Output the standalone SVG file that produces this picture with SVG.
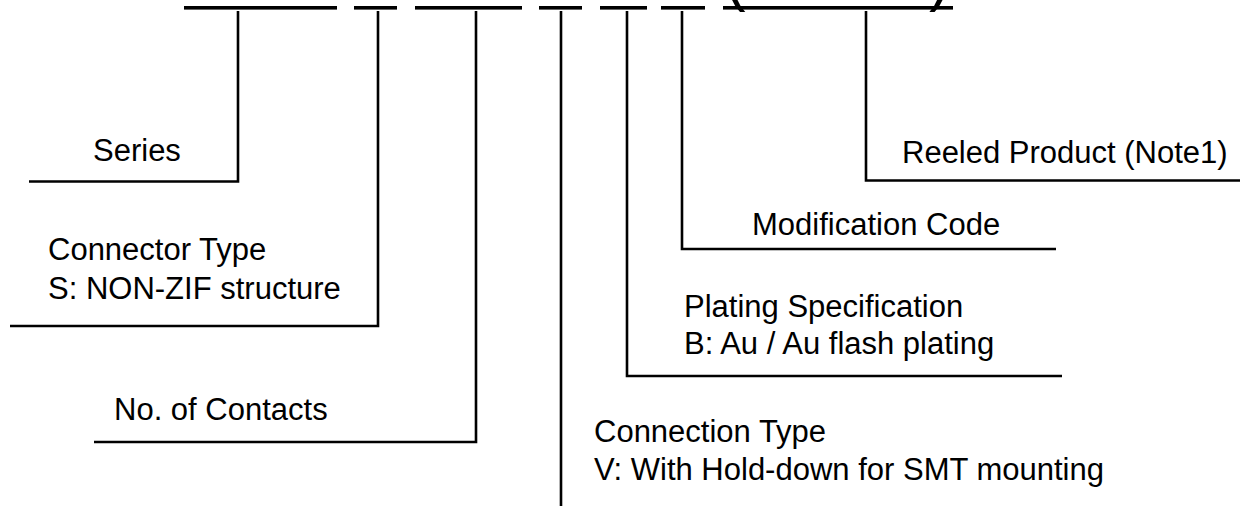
<svg xmlns="http://www.w3.org/2000/svg" width="1240" height="506" viewBox="0 0 1240 506">
<style>
.t{font-family:"Liberation Sans",Arial,sans-serif;font-size:31px;fill:#000}
.pn{font-family:"Liberation Sans",Arial,sans-serif;font-size:62px;fill:#000}
.ln{fill:none;stroke:#000;stroke-width:2.6}
.bar{fill:#000}
</style>
<rect width="1240" height="506" fill="#fff"/>
<g id="part-number">
<rect class="bar" x="184" y="6" width="153" height="3.6"/>
<rect class="bar" x="354" y="6" width="43" height="3.6"/>
<rect class="bar" x="415" y="6" width="107" height="3.6"/>
<rect class="bar" x="539" y="6" width="43" height="3.6"/>
<rect class="bar" x="600" y="6" width="47" height="3.6"/>
<rect class="bar" x="661" y="6" width="44" height="3.6"/>
<rect class="bar" x="723" y="6" width="230" height="3.6"/>
<text class="pn" x="725" y="-1">(</text>
<text class="pn" x="929" y="-1">)</text>
</g>
<g id="connectors">
<path class="ln" d="M238 11V181.5H29"/>
<path class="ln" d="M378 11V326H10"/>
<path class="ln" d="M476 11V442H94"/>
<path class="ln" d="M561 11V506"/>
<path class="ln" d="M627 11V376H1062"/>
<path class="ln" d="M682 11V249H1056"/>
<path class="ln" d="M866 11V180.5H1240"/>
</g>
<g id="series"><text class="t" x="93" y="161">Series</text></g>
<g id="connector-type"><text class="t" x="48" y="260">Connector Type</text><text class="t" x="48" y="299">S: NON-ZIF structure</text></g>
<g id="contacts"><text class="t" x="114" y="420">No. of Contacts</text></g>
<g id="connection-type"><text class="t" x="594" y="442">Connection Type</text><text class="t" x="594" y="480">V: With Hold-down for SMT mounting</text></g>
<g id="plating"><text class="t" x="684" y="317">Plating Specification</text><text class="t" x="684" y="354">B: Au / Au flash plating</text></g>
<g id="modification"><text class="t" x="752" y="235">Modification Code</text></g>
<g id="reeled"><text class="t" x="902" y="163">Reeled Product (Note1)</text></g>
</svg>
